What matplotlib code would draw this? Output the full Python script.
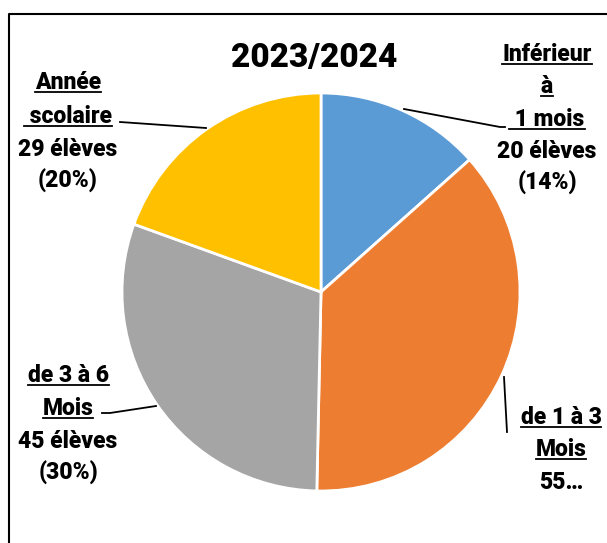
import matplotlib.pyplot as plt

# données du graphique
categories = ["Inférieur à 1 mois", "de 1 à 3 Mois", "de 3 à 6 Mois", "Année scolaire"]
eleves = [20, 55, 45, 29]
colors = ["#5B9BD5", "#ED7D31", "#A5A5A5", "#FFC000"]
title = "2023/2024"

W, H = 607, 543
plt.rcParams['font.family'] = ['Roboto', 'DejaVu Sans']

fig = plt.figure(figsize=(W / 100, H / 100), dpi=100)
ax = fig.add_axes([0, 0, 1, 1])

# camembert (sens horaire depuis midi)
ax.pie(eleves, colors=colors, startangle=90, counterclock=False,
       center=(321, H - 292), radius=199,
       wedgeprops=dict(edgecolor='white', linewidth=2))
ax.set_xlim(0, W)
ax.set_ylim(0, H)
ax.set_aspect('auto')
ax.axis('off')

# cadre du graphique
ax.plot([9, 9, W + 5], [-5, H - 14, H - 14], color='black', lw=1.5, clip_on=False)

ax.text(314, H - 67, title, ha='center', va='baseline', fontsize=24, fontweight='heavy')

# étiquettes : (texte, souligné) ligne par ligne
labels = [
    [("Inférieur", True), ("à", True), (" 1 mois", True),
     (f"{eleves[0]} élèves", False), ("(14%)", False)],
    [("de 1 à 3", True), ("Mois", True), ("55…", False)],
    [("de 3 à 6", True), ("Mois", True),
     (f"{eleves[2]} élèves", False), ("(30%)", False)],
    [("Année", True), (" scolaire", True),
     (f"{eleves[3]} élèves", False), ("(20%)", False)],
]
label_x = [547, 561, 68, 68]
label_base = [[61, 93, 126, 158, 190], [424, 456, 489], [382, 415, 448, 480], [89, 123, 156, 188]]

texts = []
for lines, x, bases in zip(labels, label_x, label_base):
    for (s, und), b in zip(lines, bases):
        t = ax.text(x, H - b, s, ha='center', va='baseline', fontsize=16.5, fontweight='heavy')
        if und:
            texts.append((t, b))

fig.canvas.draw()
r = fig.canvas.get_renderer()
for t, b in texts:
    bb = t.get_window_extent(r)
    ax.plot([bb.x0, bb.x1], [H - b - 3, H - b - 3], color='black', lw=1.3)

# traits de rappel
leaders = [
    [(404, 109), (500, 127), (505, 127)],
    [(504, 377), (507, 432)],
    [(102, 413), (110, 413), (156, 406)],
    [(120, 122), (206, 128)],
]
for pts in leaders:
    ax.plot([p[0] for p in pts], [H - p[1] for p in pts], color='black', lw=1.3)

fig.savefig("out.png", dpi=100)
